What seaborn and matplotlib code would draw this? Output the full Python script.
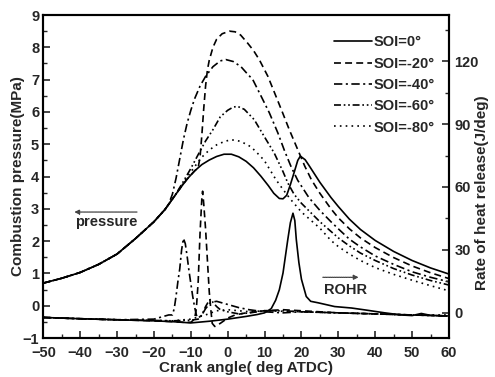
import matplotlib
matplotlib.use("Agg")
import matplotlib.pyplot as plt
from matplotlib.ticker import MultipleLocator
import seaborn as sns

# ---------------- data ----------------
labels = ["SOI=0°", "SOI=-20°", "SOI=-40°", "SOI=-60°", "SOI=-80°"]

# Cylinder pressure (MPa) vs crank angle (deg ATDC)
p0_x = [-50, -45, -40, -35, -30, -25, -20, -17, -15, -13, -11, -9, -7, -5, -3, -1, 1, 3, 5, 7, 9, 11, 12.5,
        14, 15, 16, 17, 18, 19, 19.7, 21, 22, 25, 28, 30, 33, 36, 40, 45, 50, 55, 60]
p0_y = [0.70, 0.85, 1.03, 1.28, 1.60, 2.08, 2.60, 2.98, 3.30, 3.62, 3.92, 4.17, 4.37, 4.51, 4.62, 4.69, 4.69,
        4.61, 4.47, 4.27, 4.01, 3.72, 3.48, 3.32, 3.31, 3.42, 3.75, 4.12, 4.50, 4.63, 4.52, 4.35, 3.82,
        3.35, 3.07, 2.68, 2.36, 2.02, 1.68, 1.40, 1.17, 0.98]

p20_x = [-50, -45, -40, -35, -30, -25, -20, -17, -15, -13, -11, -9, -8, -7.5, -7, -6.5, -6, -5.5, -5, -4, -3,
         -1.5, 0.5, 2, 3.5, 5.4, 7, 8.6, 10.9, 13.1, 14.9, 16.7, 19, 20.9, 22.7, 25, 28, 30, 33, 36, 40,
         45, 50, 55, 60]
p20_y = [0.70, 0.85, 1.03, 1.28, 1.60, 2.08, 2.60, 2.98, 3.30, 3.62, 3.92, 4.17, 4.28, 4.60, 5.30, 6.10,
         6.80, 7.30, 7.60, 8.00, 8.25, 8.42, 8.50, 8.48, 8.38, 8.13, 7.90, 7.61, 7.10, 6.48, 5.97, 5.45,
         4.83, 4.32, 3.90, 3.48, 3.00, 2.72, 2.38, 2.10, 1.80, 1.49, 1.23, 1.02, 0.84]

p40_x = [-50, -45, -40, -35, -30, -25, -20, -17, -16, -15, -14, -13, -12, -11, -10, -9, -7.5, -6, -4, -2,
         -0.5, 1.5, 3.6, 5, 6.8, 9, 11.3, 13.6, 15.4, 17.2, 19, 22, 25, 28, 30, 33, 36, 40, 45, 50, 55, 60]
p40_y = [0.70, 0.85, 1.03, 1.28, 1.60, 2.08, 2.60, 2.98, 3.15, 3.45, 3.95, 4.55, 5.15, 5.65, 6.05, 6.40,
         6.80, 7.10, 7.40, 7.58, 7.62, 7.56, 7.40, 7.22, 7.00, 6.50, 5.97, 5.35, 4.80, 4.30, 3.88, 3.35,
         2.95, 2.60, 2.38, 2.06, 1.82, 1.54, 1.28, 1.05, 0.88, 0.74]

p60_x = [-50, -45, -40, -35, -30, -25, -20, -17, -15, -14, -12, -10, -8, -6, -4, -2, 0, 1.5, 2.7, 4.5,
         7.2, 9.9, 12.6, 15, 16.3, 18, 20, 25, 28, 30, 33, 36, 40, 45, 50, 55, 60]
p60_y = [0.70, 0.85, 1.03, 1.28, 1.60, 2.08, 2.60, 2.98, 3.30, 3.47, 3.85, 4.25, 4.68, 5.10, 5.45, 5.85,
         6.05, 6.15, 6.17, 6.08, 5.76, 5.24, 4.73, 4.15, 3.80, 3.45, 3.17, 2.60, 2.30, 2.10, 1.85, 1.63,
         1.40, 1.15, 0.95, 0.78, 0.64]

p80_x = [-50, -45, -40, -35, -30, -25, -20, -17, -15, -13, -11, -9, -7, -5, -3, -1, 0.9, 3, 4.5, 6.3, 8,
         9.9, 11.5, 13.1, 15, 17, 20, 25, 28, 30, 33, 36, 40, 45, 50, 55, 60]
p80_y = [0.70, 0.85, 1.03, 1.28, 1.60, 2.08, 2.60, 2.98, 3.30, 3.62, 3.98, 4.30, 4.60, 4.82, 4.98, 5.08,
         5.14, 5.10, 5.03, 4.92, 4.73, 4.50, 4.20, 3.90, 3.60, 3.30, 2.90, 2.40, 2.02, 1.83, 1.60, 1.40,
         1.18, 0.97, 0.79, 0.62, 0.46]

# Rate of heat release (J/deg) vs crank angle
r0_x = [-50, -40, -30, -20, -15, -10, -5, 0, 5, 8, 10, 11.8, 13, 14, 15, 16.3, 17, 17.7, 18.2, 18.6, 19.3,
        20, 21.3, 22.5, 24.5, 29, 33.6, 38, 42.6, 47, 50, 52.5, 55, 60]
r0_y = [-2.2, -2.8, -3.3, -3.8, -4.2, -4.8, -4.0, -3.0, -1.7, -0.8, 0.0, 2.0, 6.0, 11.0, 19.0, 35.0, 43.0,
        47.5, 44.0, 35.0, 24.0, 16.0, 7.8, 5.5, 4.8, 3.0, 2.3, 1.2, 0.0, -1.0, -1.3, -0.3, -1.2, -1.5]

r20_x = [-50, -40, -30, -20, -15, -12, -10, -9, -8.5, -8, -7.5, -7, -6.8, -6.5, -6, -5.5, -5, -4.6, -4.2,
         -3.5, -2, 0, 2, 5, 10, 15, 20, 30, 40, 50, 60]
r20_y = [-2.2, -2.8, -3.3, -3.8, -4.2, -4.5, -4.5, -3.0, 2.0, 15.0, 38.0, 55.0, 58.0, 52.0, 40.0, 25.0,
         10.0, 2.0, -5.0, -6.5, -5.0, -2.5, -1.0, 0.0, 1.0, 1.5, 1.0, 0.0, -0.5, -1.0, -1.5]

r40_x = [-50, -40, -30, -20, -18, -16, -15, -14.5, -14, -13.5, -13, -12.5, -12, -11.5, -11, -10.5, -10,
         -9.5, -9, -8.5, -8, -7, -6, -4.6, -3, -1, 1, 3, 5.8, 10, 15, 20, 30, 40, 50, 60]
r40_y = [-2.2, -2.8, -3.3, -3.0, -2.0, -1.0, -1.0, 2.0, 8.0, 15.0, 21.0, 30.0, 35.5, 33.0, 27.0, 20.0,
         14.0, 8.0, 3.0, -1.0, -2.5, -1.0, 2.0, 5.0, 5.5, 4.5, 3.5, 2.5, 1.5, 0.5, 0.0, 0.5, 0.0, -0.5,
         -1.0, -1.5]

r60_x = [-50, -40, -30, -20, -15, -10, -8, -7, -6, -5, -4.5, -4, -3, -2, 0, 3, 6, 10, 15, 20, 30, 40, 50, 60]
r60_y = [-2.2, -2.8, -3.3, -3.6, -3.8, -3.5, -3.0, -1.0, 3.0, 6.0, 6.5, 5.0, 3.0, 1.5, 0.5, -0.5, 0.0,
         1.0, 1.0, 0.5, 0.0, -0.5, -1.0, -1.5]

r80_x = [-50, -40, -30, -20, -15, -10, -6, -3, 0, 3, 6, 10, 20, 30, 40, 50, 60]
r80_y = [-2.2, -2.8, -3.3, -3.6, -3.8, -3.0, -1.0, 1.0, 1.5, 1.0, 0.5, 1.0, 0.5, 0.0, -0.5, -1.0, -1.0]

# ---------------- style ----------------
sns.set_style("ticks")
plt.rcParams["font.family"] = ["Liberation Sans", "DejaVu Sans"]
plt.rcParams["font.weight"] = "bold"
plt.rcParams["lines.scale_dashes"] = False

styles = [
    "-",
    (0, (5.0, 3.0)),
    (0, (6.0, 2.5, 1.5, 2.5)),
    (0, (5.0, 2.0, 1.2, 2.0, 1.2, 2.0)),
    (0, (1.2, 3.0)),
]
LW = 1.2
FS = 10.5

fig = plt.figure(figsize=(4.95, 3.77), dpi=100)
ax = fig.add_axes([0.0875, 0.1034, 0.8195, 0.8568])
ax2 = ax.twinx()

pressure = [(p0_x, p0_y), (p20_x, p20_y), (p40_x, p40_y), (p60_x, p60_y), (p80_x, p80_y)]
rohr = [(r0_x, r0_y), (r20_x, r20_y), (r40_x, r40_y), (r60_x, r60_y), (r80_x, r80_y)]

handles = []
for (x, y), ls in zip(pressure, styles):
    sns.lineplot(x=x, y=y, ax=ax, color="black", linewidth=LW, linestyle=ls, legend=False)
    handles.append(ax.lines[-1])
for (x, y), ls in zip(rohr, styles):
    sns.lineplot(x=x, y=y, ax=ax2, color="black", linewidth=LW, linestyle=ls, legend=False)

# ---------------- axes ----------------
ax.set_xlim(-50, 60)
ax.set_ylim(-1, 9)
ax2.set_ylim(-12, 142)

ax.xaxis.set_major_locator(MultipleLocator(10))
ax.xaxis.set_minor_locator(MultipleLocator(5))
ax.yaxis.set_major_locator(MultipleLocator(1))
ax.yaxis.set_minor_locator(MultipleLocator(0.5))
ax2.yaxis.set_major_locator(MultipleLocator(30))
ax2.yaxis.set_minor_locator(MultipleLocator(15))
ax2.set_yticks([0, 30, 60, 90, 120])

for a in (ax, ax2):
    a.tick_params(which="major", direction="in", length=5, width=1.2, labelsize=FS)
    a.tick_params(which="minor", direction="in", length=3, width=1.0)
    for s in a.spines.values():
        s.set_linewidth(1.5)
        s.set_color("black")
ax.tick_params(axis="x", which="both", top=False, pad=6)
ax.tick_params(axis="y", which="both", right=False, pad=3)
ax2.tick_params(axis="y", which="both", left=False, pad=4)

for lab in ax.get_xticklabels() + ax.get_yticklabels() + ax2.get_yticklabels():
    lab.set_fontweight("bold")

ax.set_xlabel("Crank angle( deg ATDC)", fontsize=FS + 0.5, fontweight="bold")
ax.set_ylabel("Combustion pressure(MPa)", fontsize=FS + 0.5, fontweight="bold")
ax2.set_ylabel("Rate of heat release(J/deg)", fontsize=FS + 0.5, fontweight="bold")
ax.xaxis.set_label_coords(0.5, -0.07)
ax.yaxis.set_label_coords(-0.045, 0.5)
ax2.yaxis.set_label_coords(1.063, 0.45)

# ---------------- legend & notes ----------------
ax2.legend(handles, labels, loc="upper right", bbox_to_anchor=(0.98, 0.955), frameon=False,
           handlelength=2.6, handletextpad=0.15, labelspacing=0.5, borderaxespad=0.0,
           prop={"weight": "bold", "size": FS})

ax.annotate("", xy=(-41.6, 2.9), xytext=(-24.6, 2.9),
            arrowprops=dict(arrowstyle="-|>", lw=0.9, color="#444444", linestyle=(0, (1, 0.6)),
                            mutation_scale=7, shrinkA=0, shrinkB=0))
ax.text(-41.3, 2.58, "pressure", fontsize=FS, fontweight="bold", ha="left", va="center")

ax.annotate("", xy=(35.5, 0.88), xytext=(25.8, 0.88),
            arrowprops=dict(arrowstyle="-|>", lw=0.9, color="#444444", linestyle=(0, (1, 0.6)),
                            mutation_scale=7, shrinkA=0, shrinkB=0))
ax.text(26.1, 0.50, "ROHR", fontsize=FS, fontweight="bold", ha="left", va="center")

fig.savefig("out.png", dpi=100, facecolor="white")
